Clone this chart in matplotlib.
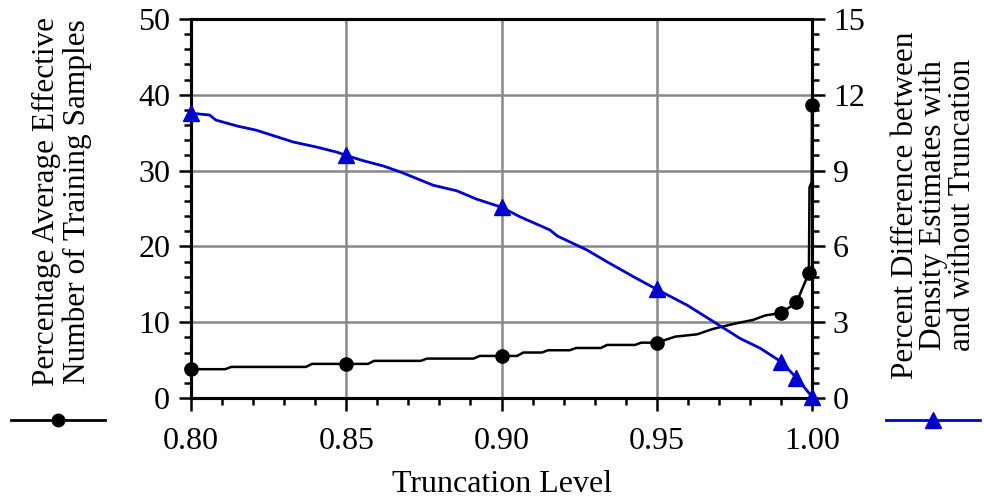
import numpy as np
import matplotlib.pyplot as plt
from matplotlib.ticker import MultipleLocator, FormatStrFormatter

plt.rcParams['font.family'] = ['Liberation Serif', 'DejaVu Serif']
plt.rcParams['font.size'] = 22

x_eff = [0.800, 0.811, 0.813, 0.837, 0.839, 0.857, 0.859, 0.874, 0.876, 0.891,
         0.893, 0.905, 0.907, 0.913, 0.915, 0.922, 0.924, 0.932, 0.934, 0.943,
         0.945, 0.950, 0.956, 0.963, 0.968, 0.975, 0.981, 0.985, 0.990, 0.995,
         0.999, 0.9992, 0.9999, 1.000]
y_eff = [3.8, 3.8, 4.1, 4.1, 4.5, 4.5, 4.9, 4.9, 5.2, 5.2,
         5.55, 5.55, 6.0, 6.0, 6.3, 6.3, 6.6, 6.6, 7.0, 7.0,
         7.3, 7.3, 8.1, 8.4, 9.1, 9.8, 10.3, 10.9, 11.2, 12.6,
         16.5, 27.8, 28.5, 38.6]
x_eff_pts = [0.80, 0.85, 0.90, 0.95, 0.99, 0.995, 0.999, 1.000]
y_eff_pts = [3.8, 4.5, 5.55, 7.3, 11.2, 12.6, 16.5, 38.6]

# Prozentuale Abweichung der Dichteschaetzung (rechte Achse)
x_diff = [0.800, 0.806, 0.808, 0.815, 0.821, 0.833, 0.8405, 0.847, 0.850, 0.8555,
          0.862, 0.868, 0.878, 0.8856, 0.892, 0.900, 0.906, 0.9156, 0.918, 0.9275,
          0.934, 0.9425, 0.950, 0.9597, 0.9683, 0.9768, 0.9833, 0.990, 0.995, 1.000]
y_diff = [11.27, 11.2, 11.0, 10.76, 10.6, 10.13, 9.93, 9.73, 9.6, 9.39,
          9.18, 8.92, 8.42, 8.2, 7.87, 7.55, 7.17, 6.65, 6.41, 5.86,
          5.39, 4.8, 4.3, 3.68, 3.02, 2.36, 1.97, 1.44, 0.80, 0.05]
x_diff_pts = [0.80, 0.85, 0.90, 0.95, 0.99, 0.995, 1.000]
y_diff_pts = [11.27, 9.6, 7.55, 4.3, 1.44, 0.80, 0.05]

fig = plt.figure(figsize=(9.84, 5.0), dpi=100)
ax = fig.add_axes([191/984, 1 - 398/500, 621/984, 379/500])
ax2 = ax.twinx()

# Gitter
ax.set_axisbelow(True)
ax.grid(True, which='major', color='#888888', linewidth=1.8)

# Kurven
ax.plot(x_eff, y_eff, color='black', linewidth=1.8, zorder=3)
ax.plot(x_eff_pts, y_eff_pts, 'o', color='black', markersize=9.5, clip_on=False, zorder=4)
ax2.plot(x_diff, y_diff, color='#0000cc', linewidth=2.0, zorder=3)
ax2.plot(x_diff_pts, y_diff_pts, '^', color='#0000cc', markersize=12, clip_on=False, zorder=4)

ax.set_xlim(0.80, 1.00)
ax.set_ylim(0, 50)
ax2.set_ylim(0, 15)

ax.xaxis.set_major_locator(MultipleLocator(0.05))
ax.xaxis.set_minor_locator(MultipleLocator(0.01))
ax.xaxis.set_major_formatter(FormatStrFormatter('%.2f'))
ax.yaxis.set_major_locator(MultipleLocator(10))
ax.yaxis.set_minor_locator(MultipleLocator(2))
ax2.yaxis.set_major_locator(MultipleLocator(3))
ax2.yaxis.set_minor_locator(MultipleLocator(0.6))

for a in (ax, ax2):
    a.tick_params(which='major', direction='out', length=9, width=1.8, labelsize=23, pad=6)
    a.tick_params(which='minor', direction='out', length=5, width=1.8)
    for s in a.spines.values():
        s.set_linewidth(2.2)
ax.tick_params(axis='x', pad=12)

# Achsenbeschriftungen
fig.text(62/984, 1 - 202/500, 'Percentage Average Effective\nNumber of Training Samples',
         rotation=90, ha='center', va='center', multialignment='center', linespacing=1.1,
         fontsize=22.5)
fig.text(934/984, 1 - 205/500, 'Percent Difference between\nDensity Estimates with\nand without Truncation',
         rotation=90, ha='center', va='center', multialignment='center', linespacing=0.97,
         fontsize=22.5)
fig.text(502/984, 1 - 484/500, 'Truncation Level', ha='center', va='center', fontsize=23)

# Legendensymbole unten links und rechts
h1 = plt.Line2D([], [], color='black', linewidth=2, marker='o', markersize=9)
h2 = plt.Line2D([], [], color='#0000cc', linewidth=2, marker='^', markersize=11)
fig.legend([h1], [''], loc='center', bbox_to_anchor=(58/984, 1 - 423/500), frameon=False,
           handlelength=3.1, handletextpad=0, borderpad=0, borderaxespad=0, numpoints=1)
fig.legend([h2], [''], loc='center', bbox_to_anchor=(933/984, 1 - 423/500), frameon=False,
           handlelength=3.1, handletextpad=0, borderpad=0, borderaxespad=0, numpoints=1)

fig.savefig('out.png', dpi=100)
